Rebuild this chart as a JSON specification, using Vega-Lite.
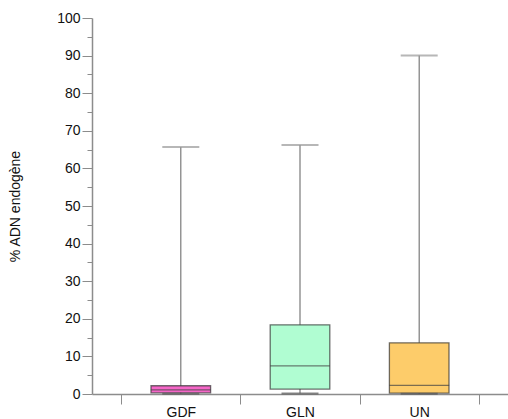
{
  "$schema": "https://vega.github.io/schema/vega-lite/v6.json",
  "width": 416,
  "height": 376,
  "autosize": {"type": "none"},
  "padding": {"left": 92, "top": 18, "right": 0, "bottom": 25},
  "config": {
    "view": {"stroke": null},
    "font": "Liberation Sans",
    "axis": {
      "domainColor": "#8c8c8c",
      "tickColor": "#8c8c8c",
      "labelColor": "#111",
      "labelFontSize": 14,
      "titleFontSize": 14,
      "titleFontWeight": "normal",
      "titleColor": "#111",
      "grid": false
    }
  },
  "data": {
    "values": [
      {"groupe": "GDF", "min": 0.05, "q1": 0.3, "median": 1.1, "q3": 2.2, "max": 65.7},
      {"groupe": "GLN", "min": 0.1, "q1": 1.3, "median": 7.5, "q3": 18.4, "max": 66.2},
      {"groupe": "UN", "min": 0.05, "q1": 0.25, "median": 2.3, "q3": 13.6, "max": 90.0}
    ]
  },
  "encoding": {
    "x": {
      "field": "groupe", "type": "nominal",
      "scale": {"domain": ["GDF", "GLN", "UN"], "paddingInner": 0, "paddingOuter": 0.245},
      "axis": {"title": null, "tickBand": "extent", "labelAngle": 0, "tickSize": 10, "labelPadding": 1, "domainWidth": 1.5}
    }
  },
  "layer": [
    {
      "mark": {"type": "rule", "color": "#7a7a7a", "strokeWidth": 1.2},
      "encoding": {
        "y": {
          "field": "min", "type": "quantitative",
          "scale": {"domain": [0, 100], "nice": false, "zero": true},
          "axis": {"title": "% ADN endogène", "values": [0, 5, 10, 15, 20, 25, 30, 35, 40, 45, 50, 55, 60, 65, 70, 75, 80, 85, 90, 95, 100], "labelExpr": "datum.value % 10 === 0 ? datum.label : ''", "labelOverlap": false, "tickSize": {"condition": {"test": "datum.value % 10 === 0", "value": 10}, "value": 5}, "labelPadding": 2, "domainWidth": 1.5, "titleX": -70, "titleY": 188}
        },
        "y2": {"field": "max"}
      }
    },
    {
      "mark": {"type": "bar", "width": {"band": 0.5}, "stroke": "#333", "strokeOpacity": 0.7, "strokeWidth": 1.3},
      "encoding": {
        "y": {
          "field": "q1", "type": "quantitative",
          "axis": {"title": "% ADN endogène", "values": [0, 5, 10, 15, 20, 25, 30, 35, 40, 45, 50, 55, 60, 65, 70, 75, 80, 85, 90, 95, 100], "labelExpr": "datum.value % 10 === 0 ? datum.label : ''", "labelOverlap": false, "tickSize": {"condition": {"test": "datum.value % 10 === 0", "value": 10}, "value": 5}, "labelPadding": 2, "domainWidth": 1.5, "titleX": -70, "titleY": 188}
        },
        "y2": {"field": "q3"},
        "color": {
          "field": "groupe", "type": "nominal",
          "scale": {"domain": ["GDF", "GLN", "UN"], "range": ["#f566c8", "#b0fdd2", "#fdcc6a"]},
          "legend": null
        }
      }
    },
    {
      "mark": {"type": "tick", "color": "#444", "thickness": 1.2, "size": 60},
      "encoding": {
        "y": {
          "field": "median", "type": "quantitative",
          "axis": {"title": "% ADN endogène", "values": [0, 5, 10, 15, 20, 25, 30, 35, 40, 45, 50, 55, 60, 65, 70, 75, 80, 85, 90, 95, 100], "labelExpr": "datum.value % 10 === 0 ? datum.label : ''", "labelOverlap": false, "tickSize": {"condition": {"test": "datum.value % 10 === 0", "value": 10}, "value": 5}, "labelPadding": 2, "domainWidth": 1.5, "titleX": -70, "titleY": 188}
        }
      }
    },
    {
      "mark": {"type": "tick", "color": "#999", "thickness": 2, "size": 37},
      "encoding": {
        "y": {
          "field": "max", "type": "quantitative",
          "axis": {"title": "% ADN endogène", "values": [0, 5, 10, 15, 20, 25, 30, 35, 40, 45, 50, 55, 60, 65, 70, 75, 80, 85, 90, 95, 100], "labelExpr": "datum.value % 10 === 0 ? datum.label : ''", "labelOverlap": false, "tickSize": {"condition": {"test": "datum.value % 10 === 0", "value": 10}, "value": 5}, "labelPadding": 2, "domainWidth": 1.5, "titleX": -70, "titleY": 188}
        }
      }
    },
    {
      "mark": {"type": "tick", "color": "#555", "thickness": 2, "size": 37},
      "encoding": {
        "y": {
          "field": "min", "type": "quantitative",
          "axis": {"title": "% ADN endogène", "values": [0, 5, 10, 15, 20, 25, 30, 35, 40, 45, 50, 55, 60, 65, 70, 75, 80, 85, 90, 95, 100], "labelExpr": "datum.value % 10 === 0 ? datum.label : ''", "labelOverlap": false, "tickSize": {"condition": {"test": "datum.value % 10 === 0", "value": 10}, "value": 5}, "labelPadding": 2, "domainWidth": 1.5, "titleX": -70, "titleY": 188}
        }
      }
    }
  ]
}
